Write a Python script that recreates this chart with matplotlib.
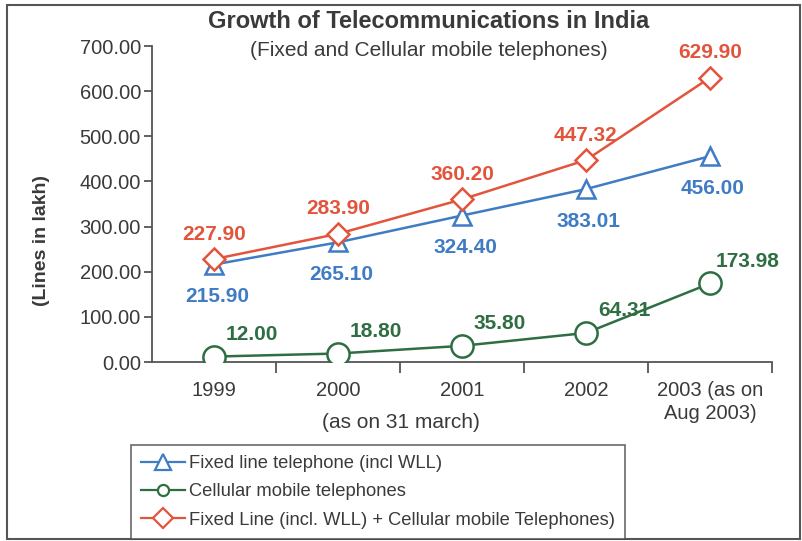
import matplotlib
matplotlib.use("Agg")
import matplotlib.pyplot as plt
from matplotlib.lines import Line2D
from matplotlib.patches import Rectangle

plt.rcParams['font.family'] = ['Liberation Sans', 'DejaVu Sans']

categories = ["1999", "2000", "2001", "2002", "2003 (as on\nAug 2003)"]
fixed_line = [215.90, 265.10, 324.40, 383.01, 456.00]
cellular = [12.00, 18.80, 35.80, 64.31, 173.98]
combined = [227.90, 283.90, 360.20, 447.32, 629.90]
y_ticks = [0, 100, 200, 300, 400, 500, 600, 700]

BLUE = "#3f7cc4"
GREEN = "#2f6e43"
RED = "#e2553c"
TEXT = "#3a3a3a"

W, H = 803, 541
fig = plt.figure(figsize=(W / 100, H / 100), dpi=100)
ax = fig.add_axes([152 / W, 1 - 362 / H, (772 - 152) / W, (362 - 46) / H])

x = list(range(len(categories)))
ax.plot(x, combined, color=RED, lw=1.8, marker="D", ms=11, mfc="white",
        mec=RED, mew=1.8, zorder=3)
ax.plot(x, fixed_line, color=BLUE, lw=1.8, marker="^", ms=12.5, mfc="white",
        mec=BLUE, mew=1.8, zorder=2)
ax.plot(x, cellular, color=GREEN, lw=1.8, marker="o", ms=16, mfc="white",
        mec=GREEN, mew=1.8, zorder=3)

label_kw = dict(textcoords="offset pixels", ha="center", va="center",
                fontsize=15, fontweight="bold", annotation_clip=False)
for xi, v in zip(x, combined):
    ax.annotate(f"{v:.2f}", (xi, v), xytext=(0, 25), color=RED, **label_kw)
for xi, v in zip(x, fixed_line):
    ax.annotate(f"{v:.2f}", (xi, v), xytext=(3, -32), color=BLUE, **label_kw)
for xi, v in zip(x, cellular):
    ax.annotate(f"{v:.2f}", (xi, v), xytext=(38, 22), color=GREEN, **label_kw)

ax.set_xlim(-0.5, len(categories) - 0.5)
ax.set_ylim(0, 700)
ax.set_yticks(y_ticks)
ax.set_yticklabels([f"{t:.2f}" for t in y_ticks])
ax.set_xticks(x)
ax.set_xticklabels(categories, linespacing=1.25)
ax.set_xticks([i + 0.5 for i in x], minor=True)
ax.tick_params(axis="x", which="major", length=0, pad=14, labelsize=14.5,
               labelcolor=TEXT)
ax.tick_params(axis="x", which="minor", length=8, width=1.3, color="#555555",
               direction="out")
ax.tick_params(axis="y", length=6, width=1.3, color="#555555", pad=2,
               labelsize=14.5, labelcolor=TEXT)
for side in ("top", "right"):
    ax.spines[side].set_visible(False)
for side in ("left", "bottom"):
    ax.spines[side].set_color("#555555")
    ax.spines[side].set_linewidth(1.3)

fig.text(429 / W, 1 - 22 / H, "Growth of Telecommunications in India",
         ha="center", va="center", fontsize=17, fontweight="bold", color=TEXT)
fig.text(429 / W, 1 - 50 / H, "(Fixed and Cellular mobile telephones)",
         ha="center", va="center", fontsize=15, color=TEXT)
fig.text(42 / W, 1 - 240 / H, "(Lines in lakh)", ha="center", va="center",
         rotation=90, fontsize=14, fontweight="bold", color=TEXT)
fig.text(401 / W, 1 - 423 / H, "(as on 31 march)", ha="center", va="center",
         fontsize=15, color=TEXT)

handles = [
    Line2D([], [], color=BLUE, lw=1.6, marker="^", ms=11, mfc="white",
           mec=BLUE, mew=1.6),
    Line2D([], [], color=GREEN, lw=1.6, marker="o", ms=8, mfc="white",
           mec=GREEN, mew=1.6),
    Line2D([], [], color=RED, lw=1.6, marker="D", ms=10, mfc="white",
           mec=RED, mew=1.6),
]
labels = ["Fixed line telephone (incl WLL)", "Cellular mobile telephones",
          "Fixed Line (incl. WLL) + Cellular mobile Telephones)"]
leg = fig.legend(handles, labels, loc="upper left",
                 bbox_to_anchor=(131 / W, 1 - 445 / H),
                 bbox_transform=fig.transFigure, fontsize=13.2,
                 frameon=True, fancybox=False, borderaxespad=0,
                 handlelength=2.4, handletextpad=0.2, labelspacing=0.62,
                 borderpad=0.55, labelcolor=TEXT)
leg.get_frame().set_edgecolor("#444444")
leg.get_frame().set_linewidth(1.2)

fig.patches.append(Rectangle((7 / W, 2 / H), (800 - 7) / W, (536 - 2) / H,
                             transform=fig.transFigure, fill=False,
                             edgecolor="#555555", lw=1.5))

fig.savefig("out.png", dpi=100)
